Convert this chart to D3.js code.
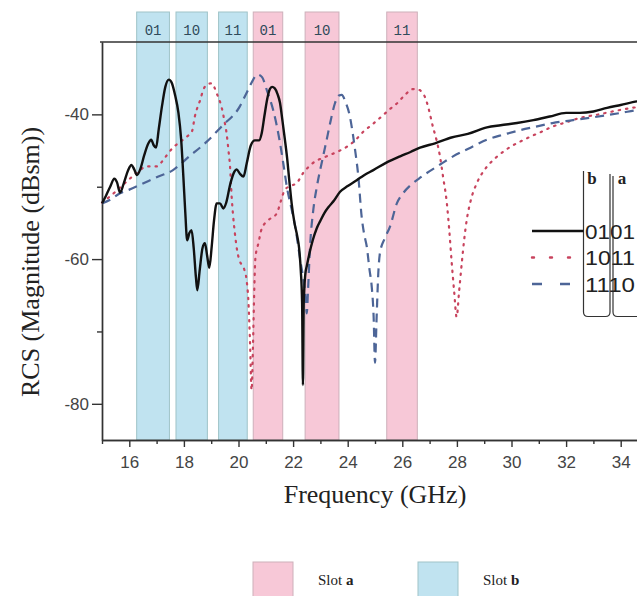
<!DOCTYPE html>
<html>
<head>
<meta charset="utf-8">
<script src="https://cdn.jsdelivr.net/npm/d3@7"></script>
<style>
  body { margin: 0; background: #fff; }
  .axis path, .axis line { stroke: #333; stroke-width: 1.4; }
  .axis text { font-family: "Liberation Sans", Arial, sans-serif; font-size: 17px; fill: #444; }
  .title { font-family: "Liberation Serif", "Times New Roman", serif; font-size: 26px; fill: #222; }
</style>
</head>
<body>
<div id="container"></div>
<script>
// RCS curves, [frequency GHz, dBsm]
const code0101 = [
  [15.0,-52.3],[15.15,-51.2],[15.3,-50.0],[15.45,-48.9],[15.55,-49.4],[15.66,-50.8],[15.8,-49.5],[15.95,-47.8],
  [16.08,-47.0],[16.18,-47.6],[16.28,-48.4],[16.4,-47.6],[16.55,-45.6],[16.7,-44.0],[16.8,-43.5],[16.9,-44.3],
  [16.98,-44.6],[17.08,-42.0],[17.2,-38.8],[17.32,-36.2],[17.45,-35.2],[17.55,-35.6],[17.68,-37.4],[17.8,-39.8],
  [17.9,-43.5],[17.98,-48.6],[18.05,-53.5],[18.12,-57.4],[18.2,-56.4],[18.28,-56.0],[18.36,-58.5],[18.44,-62.5],
  [18.49,-64.3],[18.58,-61.5],[18.68,-58.5],[18.77,-57.8],[18.85,-59.5],[18.93,-61.2],[19.02,-58.2],[19.1,-54.8],
  [19.2,-52.3],[19.32,-52.3],[19.45,-53.0],[19.55,-52.2],[19.7,-49.6],[19.85,-47.9],[19.93,-47.6],[20.05,-48.2],
  [20.18,-48.6],[20.3,-46.8],[20.45,-44.3],[20.6,-43.6],[20.75,-43.6],[20.85,-42.6],[20.95,-40.2],[21.05,-37.9],
  [21.15,-36.5],[21.23,-36.2],[21.33,-36.4],[21.43,-37.2],[21.52,-38.4],[21.6,-40.6],[21.7,-43.5],[21.78,-46.0],
  [21.87,-49.5],[21.95,-52.4],[22.05,-55.0],[22.15,-56.8],[22.22,-58.5],[22.28,-61.5],[22.33,-66.0],[22.36,-77.4],
  [22.39,-66.0],[22.45,-62.0],[22.5,-61.0],[22.6,-59.2],[22.72,-57.4],[22.86,-55.8],[23.0,-54.7],[23.15,-53.6],
  [23.3,-52.8],[23.5,-51.9],[23.72,-50.7],[24.0,-49.9],[24.33,-49.1],[24.6,-48.4],[24.94,-47.7],[25.4,-46.7],
  [25.92,-45.8],[26.3,-45.2],[26.65,-44.6],[27.2,-44.0],[27.8,-43.2],[28.4,-42.7],[29.1,-41.8],[29.6,-41.5],
  [30.2,-41.2],[30.8,-40.8],[31.4,-40.3],[32.0,-39.8],[32.5,-39.8],[33.0,-39.6],[33.5,-39.1],[34.0,-38.7],
  [34.6,-38.2],[35.0,-38.0]
];
const code1011 = [
  [15.0,-52.2],[15.4,-51.0],[15.84,-49.5],[16.3,-48.0],[16.64,-47.2],[17.0,-47.2],[17.3,-46.0],[17.6,-44.6],
  [17.9,-43.7],[18.1,-43.1],[18.3,-42.3],[18.4,-40.3],[18.5,-39.0],[18.6,-38.0],[18.7,-36.7],[18.85,-35.9],
  [19.02,-35.7],[19.12,-36.3],[19.2,-37.1],[19.3,-38.0],[19.38,-39.0],[19.48,-40.8],[19.57,-42.8],[19.63,-44.9],
  [19.69,-47.2],[19.75,-51.4],[19.8,-53.9],[19.87,-56.5],[19.95,-58.8],[20.05,-60.3],[20.2,-61.3],[20.3,-63.0],
  [20.36,-65.6],[20.42,-71.2],[20.48,-78.1],[20.53,-72.0],[20.58,-64.0],[20.62,-59.8],[20.73,-57.8],[20.85,-55.8],
  [21.1,-54.6],[21.4,-53.7],[21.55,-52.0],[21.7,-50.4],[21.9,-49.9],[22.13,-49.5],[22.37,-48.1],[22.7,-46.8],
  [23.23,-45.8],[23.6,-45.2],[23.96,-44.5],[24.3,-43.5],[24.57,-42.4],[24.9,-41.4],[25.3,-40.1],[25.6,-39.1],
  [25.8,-38.5],[26.1,-37.3],[26.4,-36.5],[26.6,-36.6],[26.83,-37.6],[26.97,-39.3],[27.12,-41.7],[27.25,-43.5],
  [27.38,-45.8],[27.5,-48.8],[27.63,-52.2],[27.72,-56.0],[27.81,-60.5],[27.9,-64.5],[27.99,-68.0],[28.08,-64.5],
  [28.18,-60.5],[28.27,-57.2],[28.36,-54.6],[28.5,-52.0],[28.73,-49.5],[28.95,-48.0],[29.2,-46.8],[29.55,-45.6],
  [29.95,-44.5],[30.3,-43.8],[30.68,-43.1],[31.1,-42.4],[31.5,-41.7],[32.0,-41.1],[32.5,-40.5],[33.2,-40.0],
  [33.97,-39.4],[34.6,-39.0],[35.0,-38.8]
];
const code1110 = [
  [15.0,-52.3],[15.3,-51.8],[15.66,-50.9],[16.0,-50.4],[16.39,-49.75],[17.0,-48.7],[17.6,-47.7],[18.2,-45.8],
  [18.83,-43.8],[19.4,-41.6],[20.05,-38.9],[20.3,-37.0],[20.54,-35.2],[20.67,-34.5],[20.85,-34.8],[21.05,-36.8],
  [21.27,-39.4],[21.5,-43.5],[21.65,-47.0],[21.77,-50.0],[21.95,-53.2],[22.1,-56.0],[22.19,-58.3],[22.3,-61.0],
  [22.37,-62.6],[22.45,-65.0],[22.5,-67.5],[22.55,-64.0],[22.62,-58.3],[22.74,-53.2],[22.87,-50.0],[22.99,-47.7],
  [23.1,-45.8],[23.23,-43.5],[23.38,-40.8],[23.53,-38.5],[23.68,-37.4],[23.78,-37.3],[23.92,-38.3],[24.08,-40.3],
  [24.18,-42.5],[24.27,-44.9],[24.39,-48.6],[24.51,-54.1],[24.6,-56.5],[24.7,-58.3],[24.8,-61.5],[24.88,-63.8],
  [24.95,-68.0],[25.0,-74.3],[25.06,-68.0],[25.12,-62.0],[25.18,-59.2],[25.35,-57.2],[25.55,-55.5],[25.8,-52.3],
  [26.05,-50.8],[26.3,-49.8],[26.6,-48.9],[26.9,-48.1],[27.4,-46.9],[27.86,-45.8],[28.5,-44.6],[29.1,-43.5],
  [29.7,-42.8],[30.3,-42.2],[30.9,-41.7],[31.5,-41.2],[32.25,-40.8],[33.0,-40.4],[34.0,-39.8],[34.6,-39.4],
  [35.0,-39.2]
];

// shaded frequency bands for each slot state
const slotBBands = [["01", 16.27, 17.47], ["10", 17.71, 18.86], ["11", 19.27, 20.32]];
const slotABands = [["01", 20.54, 21.62], ["10", 22.44, 23.68], ["11", 25.43, 26.55]];

const xTicks = [16, 18, 20, 22, 24, 26, 28, 30, 32, 34];
const xMinor = [15, 17, 19, 21, 23, 25, 27, 29, 31, 33, 35];
const yTicks = [-80, -60, -40];
const yMinor = [-70, -50];

const legendCodes = ["0101", "1011", "1110"];
const slotNames = ["a", "b"];

const width = 637, height = 596;
const plotLeft = 102, plotTop = 42, plotBottom = 440, bandTop = 12;

const x = d3.scaleLinear().domain([15, 35]).range([plotLeft, 648]);
const y = d3.scaleLinear().domain([-85, -30]).range([plotBottom, plotTop]);

const pink = "#f7c8d7", pinkEdge = "#cdb0ba";
const blue = "#c0e3f0", blueEdge = "#9fc3c8";

const svg = d3.select("#container").append("svg")
  .attr("width", width).attr("height", height);

//bands behind everything
const bands = slotBBands.map(d => ({ code: d[0], x0: d[1], x1: d[2], fill: blue, edge: blueEdge }))
  .concat(slotABands.map(d => ({ code: d[0], x0: d[1], x1: d[2], fill: pink, edge: pinkEdge })));

const band = svg.append("g").selectAll("g").data(bands).enter().append("g");
band.append("rect")
  .attr("x", d => x(d.x0))
  .attr("y", bandTop)
  .attr("width", d => x(d.x1) - x(d.x0))
  .attr("height", plotBottom - bandTop)
  .attr("fill", d => d.fill)
  .attr("stroke", d => d.edge)
  .attr("stroke-width", 1);
band.append("text")
  .attr("x", d => (x(d.x0) + x(d.x1)) / 2)
  .attr("y", 35)
  .attr("text-anchor", "middle")
  .style("font-family", "'Liberation Mono', 'DejaVu Sans Mono', monospace")
  .style("font-size", "14px")
  .style("fill", "#2f4a5a")
  .text(d => d.code);

//top frame line
svg.append("line")
  .attr("x1", plotLeft - 2).attr("x2", width)
  .attr("y1", plotTop).attr("y2", plotTop)
  .attr("stroke", "#333").attr("stroke-width", 1.4);

//axes
svg.append("g").attr("class", "axis")
  .attr("transform", `translate(0,${plotBottom})`)
  .call(d3.axisBottom(x).tickValues(xMinor).tickSize(4).tickFormat("").tickSizeOuter(0));
svg.append("g").attr("class", "axis")
  .attr("transform", `translate(0,${plotBottom})`)
  .call(d3.axisBottom(x).tickValues(xTicks).tickSize(7).tickPadding(9).tickSizeOuter(0));
svg.append("g").attr("class", "axis")
  .attr("transform", `translate(${plotLeft},0)`)
  .call(d3.axisLeft(y).tickValues(yMinor).tickSize(5).tickFormat("").tickSizeOuter(0));
svg.append("g").attr("class", "axis")
  .attr("transform", `translate(${plotLeft},0)`)
  .call(d3.axisLeft(y).tickValues(yTicks).tickSize(10).tickPadding(3).tickSizeOuter(0)
    .tickFormat(d => String(d)));

svg.append("text").attr("class", "title")
  .attr("x", 375).attr("y", 503)
  .attr("text-anchor", "middle")
  .text("Frequency (GHz)");
svg.append("text").attr("class", "title")
  .attr("transform", "translate(39,262) rotate(-90)")
  .attr("text-anchor", "middle")
  .text("RCS (Magnitude (dBsm))");

//curves
const line = d3.line().x(d => x(d[0])).y(d => y(d[1])).curve(d3.curveMonotoneX);
const series = [
  { data: code1011, color: "#c8435d", width: 2.2, dash: "1.4,6", cap: "round" },
  { data: code1110, color: "#4d6597", width: 2.2, dash: "9,6", cap: "butt" },
  { data: code0101, color: "#111", width: 2.4, dash: null, cap: "butt" }
];
svg.append("g").selectAll("path").data(series).enter().append("path")
  .attr("d", d => line(d.data))
  .attr("fill", "none")
  .attr("stroke", d => d.color)
  .attr("stroke-width", d => d.width)
  .attr("stroke-dasharray", d => d.dash)
  .attr("stroke-linecap", d => d.cap)
  .attr("stroke-linejoin", "round");

//legend with b | a brackets
const legendStyles = [
  { color: "#111", dash: null, cap: "butt" },
  { color: "#c8435d", dash: "2,16", cap: "round" },
  { color: "#4d6597", dash: "10,18", cap: "butt" }
];
const legend = svg.append("g");
legend.append("path")
  .attr("d", "M583.5,171 V312 Q583.5,316.5 588,316.5 H605.5 Q610,316.5 610,312 V174")
  .attr("fill", "none").attr("stroke", "#333").attr("stroke-width", 1.2);
legend.append("path")
  .attr("d", "M613,176 V312 Q613,316.5 617.5,316.5 H650")
  .attr("fill", "none").attr("stroke", "#333").attr("stroke-width", 1.2);
legend.selectAll(".head").data(["b", "a"]).enter().append("text")
  .attr("x", (d, i) => 592 + i * 30)
  .attr("y", 184)
  .attr("text-anchor", "middle")
  .style("font-family", "'Liberation Serif', serif")
  .style("font-weight", "bold")
  .style("font-size", "17px")
  .style("fill", "#222")
  .text(d => d);

const row = legend.selectAll(".row").data(legendCodes).enter().append("g")
  .attr("transform", (d, i) => `translate(0,${231 + i * 26.5})`);
row.append("line")
  .attr("x1", 532).attr("x2", 583.5)
  .attr("stroke", (d, i) => legendStyles[i].color)
  .attr("stroke-width", 2.4)
  .attr("stroke-dasharray", (d, i) => legendStyles[i].dash)
  .attr("stroke-linecap", (d, i) => legendStyles[i].cap);
row.append("text")
  .attr("x", 585).attr("y", 7.5)
  .attr("textLength", 50)
  .attr("lengthAdjust", "spacingAndGlyphs")
  .style("font-family", "'Liberation Sans', Arial, sans-serif")
  .style("font-size", "21px")
  .style("fill", "#222")
  .text(d => d);

//slot legend at the bottom
const slotLegend = svg.append("g").selectAll("g").data(slotNames).enter().append("g")
  .attr("transform", (d, i) => `translate(${253 + i * 165},0)`);
slotLegend.append("rect")
  .attr("x", 0).attr("y", 562)
  .attr("width", 40).attr("height", 40)
  .attr("fill", (d, i) => i === 0 ? pink : blue)
  .attr("stroke", (d, i) => i === 0 ? pinkEdge : blueEdge);
const slotText = slotLegend.append("text")
  .attr("x", 65).attr("y", 585)
  .style("font-family", "'Liberation Serif', serif")
  .style("font-size", "15px")
  .style("fill", "#222");
slotText.append("tspan").text("Slot ");
slotText.append("tspan").style("font-weight", "bold").text(d => d);
</script>
</body>
</html>
